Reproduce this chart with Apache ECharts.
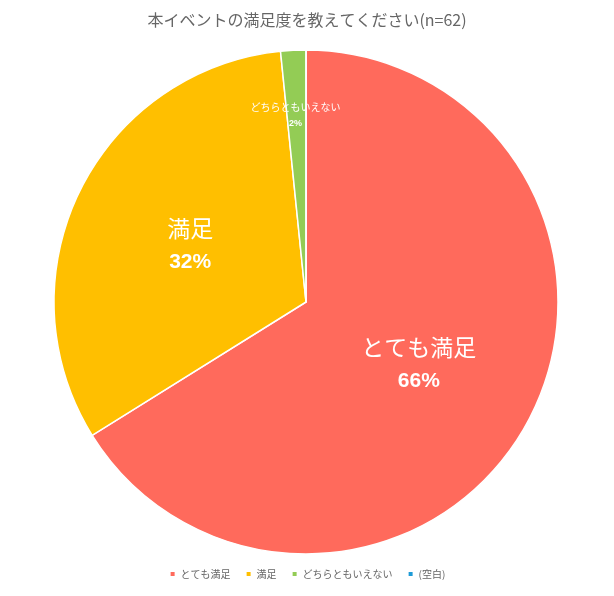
<!DOCTYPE html>
<html>
<head>
<meta charset="utf-8">
<script src="https://cdn.jsdelivr.net/npm/echarts@6/dist/echarts.min.js"></script>
<style>
html, body { margin: 0; padding: 0; background: #fff; }
#main { width: 614px; height: 596px; }
</style>
</head>
<body>
<div id="main"></div>
<script>
let titleText = '本イベントの満足度を教えてください(n=62)';
let categories = ['とても満足', '満足', 'どちらともいえない', '(空白)'];
let counts = [41, 20, 1, 0];
let colors = ['#FF6A5C', '#FFBF00', '#93CC55', '#1E9BD7'];

let chart = echarts.init(document.getElementById('main'));
let font = '"Noto Sans CJK JP", "Noto Sans", sans-serif';
let numFont = '"Liberation Sans", Arial, sans-serif';

function pct(params) {
    return Math.round(params.percent) + '%';
}

// 小さいスライスのラベルは外寄りに表示
let pieData = categories.map((name, i) => {
    let item = { name: name, value: counts[i] };
    if (i === 2) {
        item.label = {
            offset: [-4, -58],
            formatter: params => '{n|' + params.name + '}\n{p|' + pct(params) + '}',
            rich: {
                n: { fontSize: 10, color: '#fff', fontFamily: font, lineHeight: 16 },
                p: { fontSize: 9, color: '#fff', fontFamily: numFont, fontWeight: 'bold', lineHeight: 16 }
            }
        };
    }
    if (counts[i] === 0) item.label = { show: false };
    return item;
});

let option = {
    color: colors,
    title: {
        text: titleText,
        left: 'center',
        top: 7,
        textStyle: { fontSize: 16, fontWeight: 'normal', color: '#666', fontFamily: font }
    },
    legend: {
        bottom: 12,
        left: 'center',
        icon: 'rect',
        itemWidth: 6,
        itemHeight: 6,
        itemGap: 14,
        textStyle: { fontSize: 10, color: '#666', fontFamily: font }
    },
    series: [{
        type: 'pie',
        center: [306, 302],
        radius: [0, 252],
        startAngle: 90,
        clockwise: true,
        silent: true,
        data: pieData,
        itemStyle: { borderColor: '#fff', borderWidth: 1.5 },
        label: {
            position: 'inside',
            formatter: params => '{n|' + params.name + '}\n{p|' + pct(params) + '}',
            rich: {
                n: { fontSize: 23, color: '#fff', fontFamily: font, lineHeight: 34 },
                p: { fontSize: 21, color: '#fff', fontFamily: numFont, fontWeight: 'bold', lineHeight: 34 }
            }
        },
        labelLine: { show: false }
    }]
};
chart.setOption(option);
</script>
</body>
</html>
